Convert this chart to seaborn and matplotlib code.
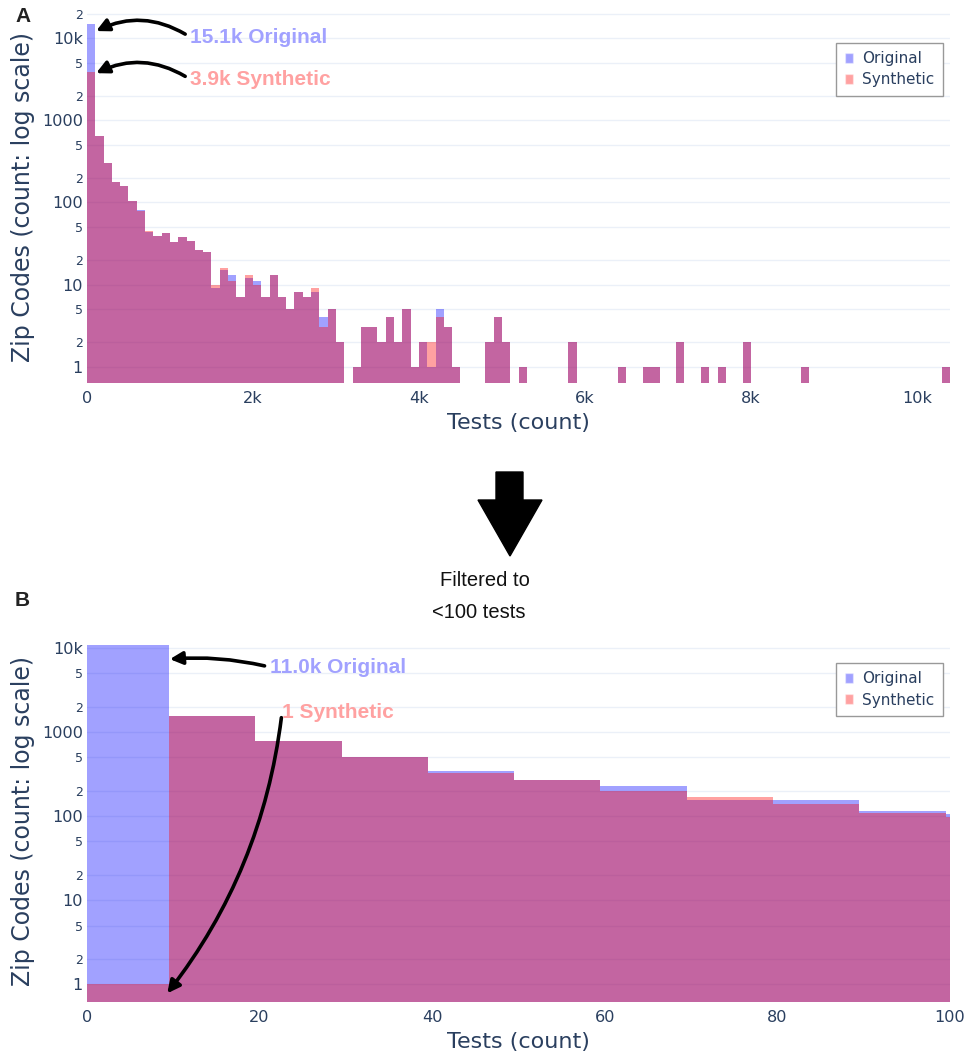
import numpy as np
import pandas as pd
import matplotlib
matplotlib.use('Agg')
import matplotlib.pyplot as plt
import matplotlib.ticker as mtick
from matplotlib.patches import Patch, Polygon
import seaborn as sns

########################################################################
# data
# panel A: bins of 100 tests, 0 .. 10400
top_edges = list(range(0, 10500, 100))
orig_top = [15100, 650, 300, 180, 158, 104, 80, 44, 39, 43,
            33, 38, 34, 26, 25, 9, 15, 13, 7, 12,
            11, 7, 13, 7, 5, 8, 7, 8, 4, 5,
            2, 0, 1, 3, 3, 2, 4, 2, 5, 1,
            2, 1, 5, 3, 1, 0, 0, 0, 2, 4,
            2, 0, 1, 0, 0, 0, 0, 0, 2, 0,
            0, 0, 0, 0, 1, 0, 0, 1, 1, 0,
            0, 2, 0, 0, 1, 0, 1, 0, 0, 2,
            0, 0, 0, 0, 0, 0, 1, 0, 0, 0,
            0, 0, 0, 0, 0, 0, 0, 0, 0, 0,
            0, 0, 0, 1]
synth_top = [3900, 650, 300, 180, 158, 104, 78, 45, 39, 43,
             33, 38, 34, 26, 25, 10, 16, 11, 7, 13,
             10, 7, 13, 7, 5, 8, 7, 9, 3, 5,
             2, 0, 1, 3, 3, 2, 4, 2, 5, 1,
             2, 2, 4, 3, 1, 0, 0, 0, 2, 4,
             2, 0, 1, 0, 0, 0, 0, 0, 2, 0,
             0, 0, 0, 0, 1, 0, 0, 1, 1, 0,
             0, 2, 0, 0, 1, 0, 1, 0, 0, 2,
             0, 0, 0, 0, 0, 0, 1, 0, 0, 0,
             0, 0, 0, 0, 0, 0, 0, 0, 0, 0,
             0, 0, 0, 1]

# panel B: filtered to <100 tests, bins of 10
bot_edges = [-0.5, 9.5, 19.5, 29.5, 39.5, 49.5, 59.5, 69.5, 79.5, 89.5, 99.5, 109.5]
orig_bot = [11000, 1560, 790, 508, 347, 268, 230, 155, 154, 115, 105]
synth_bot = [1, 1540, 785, 505, 325, 266, 200, 167, 138, 110, 98]

series = ['Original', 'Synthetic']
colors = {'Original': 'blue', 'Synthetic': 'red'}
ALPHA = 0.37
TXT = '#2a3f5f'

top_ticks = [0, 2000, 4000, 6000, 8000, 10000]
top_ticklabels = ['0', '2k', '4k', '6k', '8k', '10k']
bot_ticks = [0, 20, 40, 60, 80, 100]

########################################################################
sns.set_theme(style='white')
plt.rcParams['font.family'] = ['DejaVu Sans']

W, H = 971, 1057
fig = plt.figure(figsize=(W / 100, H / 100), dpi=100)


def px_axes(l, t, r, b):
    return fig.add_axes([l / W, 1 - b / H, (r - l) / W, (b - t) / H])


def style_axes(ax, ymax, ymin):
    ax.set_yscale('log')
    ax.set_ylim(ymin, ymax)
    maj = [1, 10, 100, 1000, 10000]
    mino = [2, 5, 20, 50, 200, 500, 2000, 5000, 20000]
    ax.yaxis.set_major_locator(mtick.FixedLocator(maj))
    ax.yaxis.set_minor_locator(mtick.FixedLocator(mino))
    ax.yaxis.set_major_formatter(mtick.FixedFormatter(['1', '10', '100', '1000', '10k']))
    ax.yaxis.set_minor_formatter(mtick.FuncFormatter(lambda v, p: str(int(round(v / 10 ** np.floor(np.log10(v)))))))
    ax.tick_params(axis='y', which='major', length=0, pad=3, labelsize=11.6, labelcolor=TXT)
    ax.tick_params(axis='y', which='minor', length=0, pad=3, labelsize=9, labelcolor=TXT)
    ax.tick_params(axis='x', length=0, pad=6, labelsize=11.6, labelcolor=TXT)
    ax.grid(axis='y', which='both', color='#ebf0f8', lw=1)
    ax.grid(axis='x', visible=False)
    ax.set_axisbelow(True)
    for s in ax.spines.values():
        s.set_visible(False)
    ax.set_ylabel('Zip Codes (count: log scale)', fontsize=17, color=TXT, labelpad=5)
    ax.set_xlabel('Tests (count)', fontsize=16, color=TXT, labelpad=5)


def legend(ax, y):
    handles = [Patch(facecolor=colors[s], alpha=ALPHA, label=s) for s in series]
    lg = ax.legend(handles=handles, loc='upper right', bbox_to_anchor=(0.992, y),
                   borderaxespad=0, frameon=True, fancybox=False, edgecolor='#999999',
                   framealpha=1, handlelength=0.55, handleheight=0.55, handletextpad=0.6,
                   borderpad=0.55, labelspacing=0.4, fontsize=11, labelcolor=TXT)
    lg.get_frame().set_linewidth(1)


#################
# panel A
ax1 = px_axes(87, 12, 950, 383)
top_mid = [e + 50 for e in top_edges[:-1]]
for s, vals in zip(series, [orig_top, synth_top]):
    d = pd.DataFrame({'tests': top_mid, 'zips': vals})
    sns.histplot(data=d, x='tests', weights='zips', bins=top_edges, color=colors[s],
                 alpha=ALPHA, linewidth=0, ax=ax1)
style_axes(ax1, 21000, 0.63)
ax1.set_xlim(0, 10400)
ax1.set_xticks(top_ticks)
ax1.set_xticklabels(top_ticklabels)
legend(ax1, 0.9165)


def arrow(rad):
    return dict(arrowstyle='-|>,head_length=0.5,head_width=0.25', color='black', lw=2.6,
                shrinkA=4, shrinkB=0, relpos=(0, 0.5), patchA=None,
                connectionstyle='arc3,rad=%s' % rad)


note_kw = dict(fontsize=15, fontweight='bold', family='Liberation Sans',
               ha='left', va='center')
ax1.annotate('15.1k Original', xy=(110, 12300), xytext=(1240, 10400),
             color='#a1a1ff', arrowprops=arrow(0.28), **note_kw)
ax1.annotate('3.9k Synthetic', xy=(110, 3770), xytext=(1240, 3180),
             color='#ffa1a1', arrowprops=arrow(0.28), **note_kw)

#################
# panel B
ax2 = px_axes(87, 640, 950, 1002)
bot_mid = [e + 5 for e in bot_edges[:-1]]
for s, vals in zip(series, [orig_bot, synth_bot]):
    d = pd.DataFrame({'tests': bot_mid, 'zips': vals})
    sns.histplot(data=d, x='tests', weights='zips', bins=bot_edges, color=colors[s],
                 alpha=ALPHA, linewidth=0, ax=ax2)
style_axes(ax2, 12500, 0.615)
ax2.set_xlim(0, 100)
ax2.set_xticks(bot_ticks)
ax2.set_xticklabels([str(t) for t in bot_ticks])
legend(ax2, 0.9365)

ax2.annotate('11.0k Original', xy=(9.6, 7400), xytext=(21.2, 5940),
             color='#a1a1ff', arrowprops=arrow(0.08), **note_kw)
ax2.annotate('1 Synthetic', xy=(9.3, 0.78), xytext=(22.6, 1730),
             color='#ffa1a1', arrowprops=arrow(-0.14), **note_kw)

#################
# panel letters, big arrow, caption
fig.text(15 / W, 1 - 17 / H, 'A', fontsize=15, fontweight='bold', family='Liberation Sans',
         color='#222222', va='center')
fig.text(15 / W, 1 - 600 / H, 'B', fontsize=15, fontweight='bold', family='Liberation Sans',
         color='#222222', va='center')

arrow_px = [(496, 472), (523, 472), (523, 500), (542, 500), (510, 556), (478, 500), (496, 500)]
fig.add_artist(Polygon([(x / W, 1 - y / H) for x, y in arrow_px], closed=True,
                       facecolor='black', edgecolor='black', transform=fig.transFigure))
fig.text(440 / W, 1 - 580 / H, 'Filtered to', fontsize=14.5, family='Liberation Sans',
         color='#111111', ha='left', va='center')
fig.text(432 / W, 1 - 612 / H, '<100 tests', fontsize=14.5, family='Liberation Sans',
         color='#111111', ha='left', va='center')

plt.savefig('out.png', dpi=100)
